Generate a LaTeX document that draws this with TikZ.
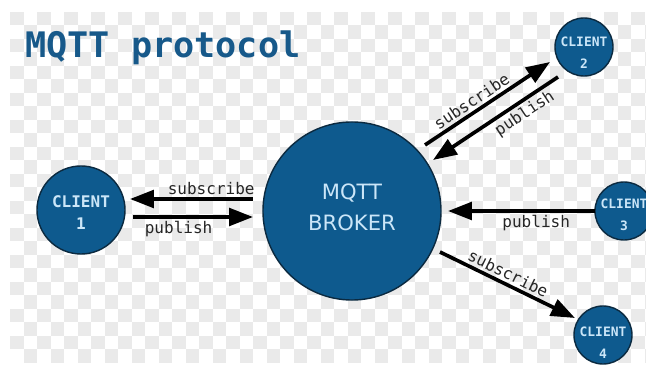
\documentclass[tikz,border=0pt]{standalone}
\usepackage{fontspec}
\usetikzlibrary{calc,arrows.meta}
\newfontfamily\monofont{DejaVu Sans Mono}
\newfontfamily\brokerfont{DejaVu Sans}
\definecolor{mqttblue}{HTML}{0E5A8E}
\definecolor{mqttedge}{HTML}{0B2A40}
\definecolor{mqtttitle}{HTML}{17598A}
\definecolor{mqttlight}{HTML}{CBE6F8}
\definecolor{labelgray}{HTML}{262626}
\definecolor{checker}{HTML}{EAEAEA}

\tikzset{
	broker/.style={circle, fill=mqttblue, draw=mqttedge, line width=1pt, minimum size=4.45cm, text=mqttlight, align=center, font=\brokerfont\fontsize{15}{22}\selectfont, execute at end node={\rule[-6pt]{0pt}{6pt}}},
	client/.style={circle, fill=mqttblue, draw=mqttedge, line width=1pt, inner sep=0pt, minimum size=1.45cm},
	bigclient/.style={client, minimum size=2.2cm},
	clientcap/.style={text=mqttlight, align=center, inner sep=0pt, font=\monofont\bfseries\fontsize{9.2}{14}\selectfont, yshift=-4.3pt},
	bigclientcap/.style={clientcap, font=\monofont\bfseries\fontsize{11.4}{14}\selectfont, yshift=2.5pt},
	msg/.style={line width=2.6pt, -{Triangle[length=17pt,width=12.5pt]}},
	msgback/.style={line width=2.6pt, {Triangle[length=17pt,width=12.5pt]}-},
	lbl/.style={font=\monofont\fontsize{11.4}{12}\selectfont, text=labelgray, inner sep=2pt},
	title/.style={font=\monofont\bfseries\fontsize{25}{28}\selectfont, text=mqtttitle, inner sep=0pt},
}

\begin{document}
\begin{tikzpicture}[x=0.025cm, y=-0.025cm]
		%%%%% START %%%%%
		
		\useasboundingbox (0, 0) rectangle (646, 367);
		\clip (0, 0) rectangle (646, 367);
		\fill[white] (0, 0) rectangle (646, 367);
		
		% checkered backdrop
		\foreach \i in {0,...,47} {
			\foreach \j in {0,...,25} {
				\pgfmathtruncatemacro\k{mod(\i+\j,2)}
				\ifnum\k=0
					\fill[checker] (10+13.5*\i, 12+13.5*\j) rectangle ++(13.5, 13.5);
				\fi
			}
		}
		
		\node[title, anchor=base west] (head) at (25, 58) {MQTT protocol};
		
		\node[broker] (broker) at (352, 211) {MQTT\\BROKER};
		\node[bigclient, label={[bigclientcap]center:CLIENT\\[1.5pt]1}] (c1) at (81, 210) {};
		\node[client, label={[clientcap]center:CLIENT\\[1.5pt]2}] (c2) at (584, 47) {};
		\node[client, label={[clientcap, yshift=1.5pt]center:CLIENT\\[1.5pt]3}] (c3) at (624, 211) {};
		\node[client, label={[clientcap, yshift=-1.2pt]center:CLIENT\\[1.5pt]4}] (c4) at (603, 335) {};
		
		% client 1
		\draw[msgback] ($(c1)+(49,-11)$) -- node[lbl, above, pos=0.66] {subscribe} ($(broker)+(-99,-12)$);
		\draw[msg] ($(c1)+(52,7)$) -- node[lbl, below, pos=0.38] {publish} ($(broker)+(-99,6)$);
		
		% client 2
		\draw[msg] ($(broker)+(73,-66)$) -- node[lbl, sloped, above, pos=0.42] {subscribe} ($(c2)+(-34,15)$);
		\draw[msgback] ($(broker)+(81,-51)$) -- node[lbl, sloped, below, pos=0.68] {publish} ($(c2)+(-26,30)$);
		
		% client 3
		\draw[msgback] ($(broker)+(96,0)$) -- node[lbl, below, pos=0.6] {publish} ($(c3)+(-29,0)$);
		
		% client 4
		\draw[msg] ($(broker)+(88,41)$) -- node[lbl, sloped, above, pos=0.47] {subscribe} ($(c4)+(-28,-17)$);
		
		%%%%% END %%%%%
\end{tikzpicture}
\end{document}
